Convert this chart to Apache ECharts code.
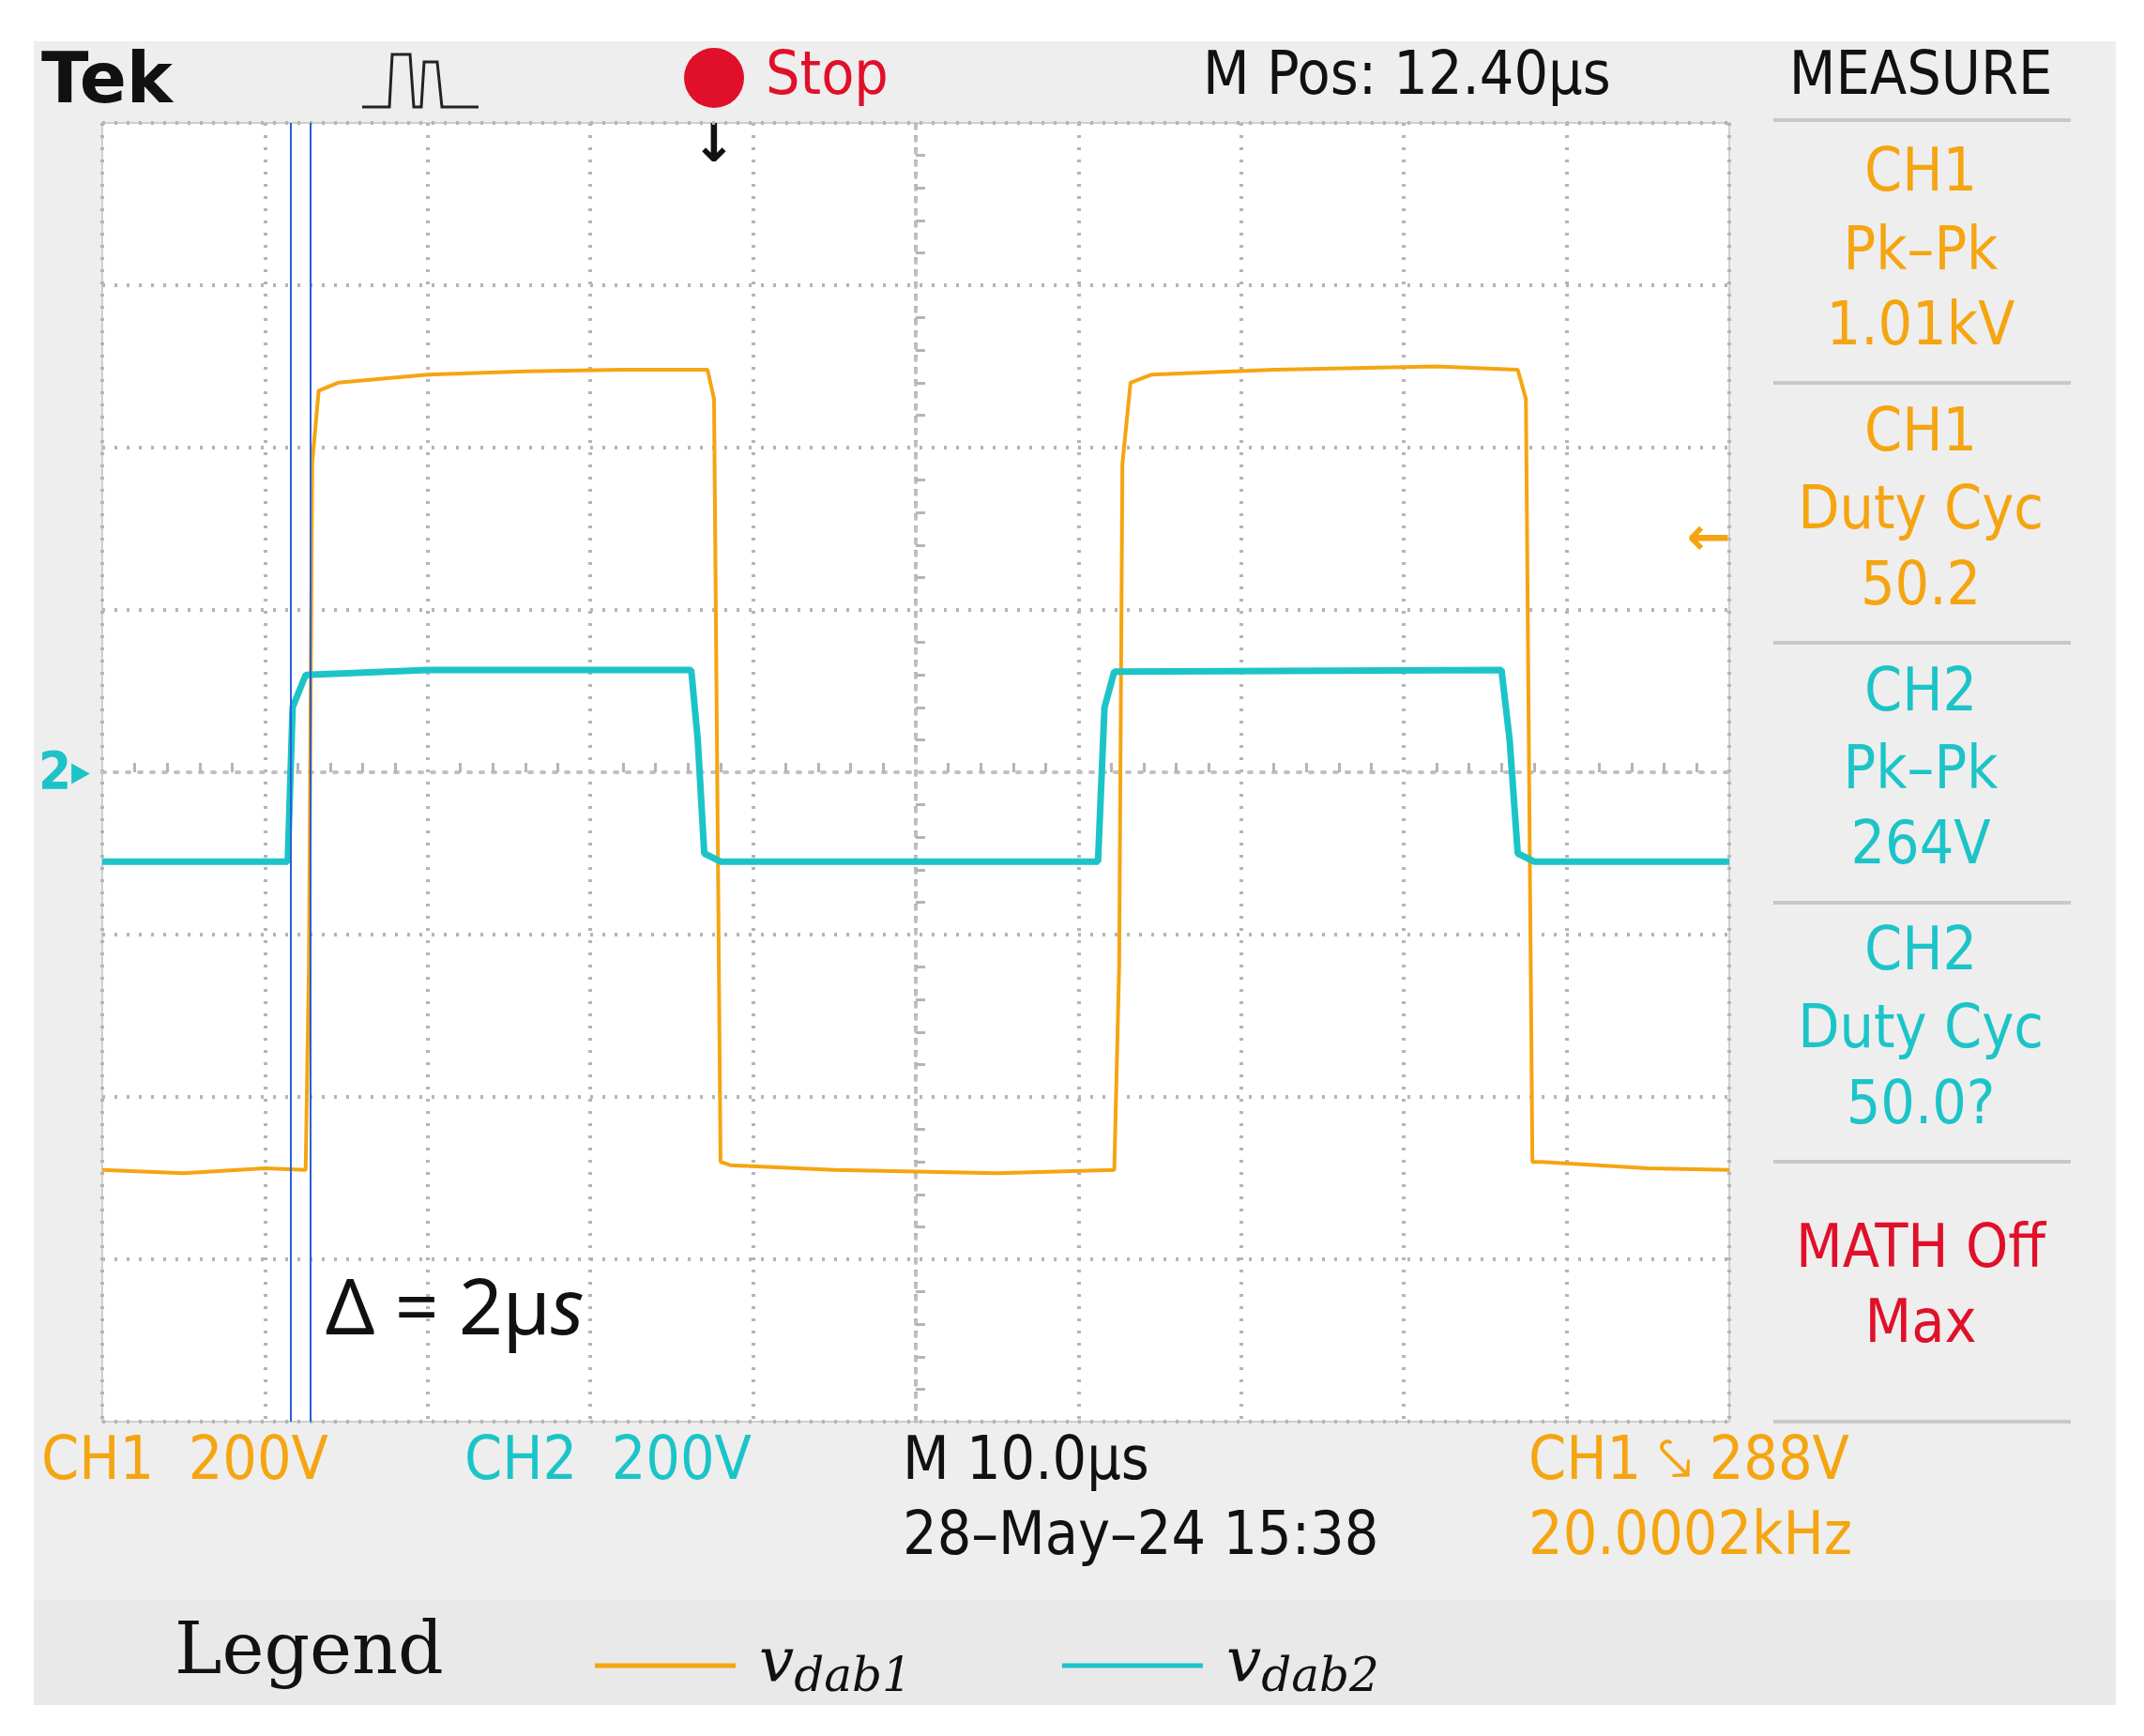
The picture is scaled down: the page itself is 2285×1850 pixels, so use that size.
<!DOCTYPE html>
<html>
<head>
<meta charset="utf-8">
<script src="https://cdn.jsdelivr.net/npm/echarts@6/dist/echarts.min.js"></script>
<style>html,body{margin:0;padding:0;background:#fff}#main{width:2285px;height:1850px}</style>
</head>
<body>
<div id="main"></div>
<script>
// scope traces, in screen divisions (x: 0..10, y: 0..8 from bottom)
const ch1Trace = [[0, 1.55], [0.5, 1.53], [1.0, 1.56], [1.25, 1.55], [1.27, 2.8], [1.29, 5.9], [1.33, 6.35], [1.45, 6.4],
  [2.0, 6.45], [2.6, 6.47], [3.2, 6.48], [3.72, 6.48], [3.76, 6.3], [3.80, 1.6], [3.86, 1.58], [4.5, 1.55],
  [5.5, 1.53], [6.22, 1.55], [6.25, 2.8], [6.27, 5.9], [6.32, 6.4], [6.45, 6.45], [7.2, 6.48], [8.2, 6.5],
  [8.7, 6.48], [8.75, 6.3], [8.79, 1.6], [8.85, 1.6], [9.5, 1.56], [10, 1.55]];
const ch2Trace = [[0, 3.45], [1.14, 3.45], [1.17, 4.4], [1.25, 4.6], [2.0, 4.63], [3.62, 4.63], [3.66, 4.2], [3.70, 3.5],
  [3.8, 3.45], [6.12, 3.45], [6.16, 4.4], [6.22, 4.62], [8.6, 4.63], [8.65, 4.2], [8.7, 3.5], [8.8, 3.45], [10, 3.45]];
const cursors = [1.16, 1.28];
const seriesNames = ['vdab1', 'vdab2'];

const S = 1.457;
const px = (v) => Math.round(v * S);
const ORANGE = '#f5a511';
const CYAN = '#1cc4c8';
const RED = '#e0102a';
const FONT = '"DejaVu Sans Condensed", "DejaVu Sans", sans-serif';

function txt(x, y, text, color, size, align, extra) {
  return {
    type: 'text', x: px(x), y: px(y),
    style: Object.assign({ text, fill: color, font: `${size}px ${FONT}`, align: align || 'left', verticalAlign: 'middle' }, extra || {}),
  };
}

const graphics = [
  { type: 'rect', shape: { x: px(25), y: px(30), width: px(1523), height: px(1140) }, style: { fill: '#eeeeee' }, z: -10 },
  { type: 'rect', shape: { x: px(25), y: px(1170), width: px(1523), height: px(77) }, style: { fill: '#e9e9e9' }, z: -10 },
  { type: 'rect', shape: { x: px(75), y: px(90), width: px(1190), height: px(950) }, style: { fill: '#ffffff', stroke: '#cfcfcf', lineWidth: 2 }, z: -9 },
  txt(30, 62, 'Tek', '#111', 74, 'left', { font: `bold 74px "DejaVu Sans", sans-serif` }),
  { type: 'polyline', shape: { points: [[265, 78], [285, 78], [287, 40], [300, 40], [303, 78], [308, 78], [310, 45], [320, 45], [323, 78], [350, 78]].map(p => [px(p[0]), px(p[1])]) }, style: { stroke: '#222', lineWidth: 3, fill: null } },
  { type: 'circle', shape: { cx: px(522), cy: px(57), r: px(22) }, style: { fill: RED } },
  txt(560, 57, 'Stop', RED, 64),
  txt(880, 57, 'M Pos: 12.40µs', '#111', 64),
  txt(1405, 57, 'MEASURE', '#111', 64, 'center'),
  txt(522, 108, '↓', '#111', 56, 'center', { font: `bold 56px "DejaVu Sans", sans-serif` }),
  txt(1250, 395, '←', ORANGE, 56, 'center', { font: `bold 56px "DejaVu Sans", sans-serif` }),
  txt(28, 566, '2', CYAN, 56, 'left', { font: `bold 56px ${FONT}` }),
  txt(52, 566, '▸', CYAN, 44, 'left'),
  {
    type: 'text', x: px(238), y: px(960),
    style: {
      text: '{a|Δ = 2µ}{b|s}', verticalAlign: 'middle', fill: '#111',
      rich: {
        a: { font: '82px "Noto Sans", sans-serif', fill: '#111' },
        b: { font: 'italic 82px "Noto Sans", sans-serif', fill: '#111' },
      },
    },
  },
  txt(30, 1070, 'CH1  200V', ORANGE, 64),
  txt(340, 1070, 'CH2  200V', CYAN, 64),
  txt(660, 1070, 'M 10.0µs', '#111', 64),
  txt(660, 1125, '28–May–24 15:38', '#111', 64),
  txt(1118, 1070, 'CH1 ⤥ 288V', ORANGE, 64),
  txt(1118, 1125, '20.0002kHz', ORANGE, 64),
  txt(128, 1210, 'Legend', '#111', 76, 'left', { font: `76px "DejaVu Serif", serif` }),
];
[88, 280, 470, 660, 850, 1040].forEach((y) => {
  graphics.push({ type: 'line', shape: { x1: px(1297), y1: px(y), x2: px(1515), y2: px(y) }, style: { stroke: '#c8c8c8', lineWidth: 4 } });
});
const panel = [
  [128, 'CH1', ORANGE], [185, 'Pk–Pk', ORANGE], [240, '1.01kV', ORANGE],
  [318, 'CH1', ORANGE], [375, 'Duty Cyc', ORANGE], [430, '50.2', ORANGE],
  [508, 'CH2', CYAN], [565, 'Pk–Pk', CYAN], [620, '264V', CYAN],
  [697, 'CH2', CYAN], [754, 'Duty Cyc', CYAN], [810, '50.0?', CYAN],
  [915, 'MATH Off', RED], [970, 'Max', RED],
];
panel.forEach(([y, t, c]) => graphics.push(txt(1405, y, t, c, 64, 'center')));

const chart = echarts.init(document.getElementById('main'));
const dotted = { show: true, lineStyle: { color: '#b5b5b5', type: [3, 10], width: 4 } };
const centreLine = { onZero: true, onZeroAxisIndex: 1, lineStyle: { color: '#c0c0c0', type: [3, 10], width: 4 } };
const centreTicks = { show: true, splitNumber: 5, length: 10, lineStyle: { color: '#b5b5b5', width: 3 } };
const option = {
  animation: false,
  graphic: graphics,
  grid: { left: px(75), top: px(90), width: px(1190), height: px(950) },
  legend: {
    left: px(432), top: px(1192), itemWidth: px(103), itemHeight: 5, itemGap: px(110),
    icon: 'rect',
    data: seriesNames,
    formatter: (n) => `{v|v}{s|${n.slice(1)}}`,
    textStyle: {
      rich: {
        v: { fontFamily: '"DejaVu Serif", serif', fontStyle: 'italic', fontSize: 66, color: '#111', padding: [0, 0, 0, 20] },
        s: { fontFamily: '"DejaVu Serif", serif', fontStyle: 'italic', fontSize: 50, color: '#111', padding: [28, 0, 0, 0] },
      },
    },
  },
  xAxis: [
    { type: 'value', min: 0, max: 10, interval: 1, axisLabel: { show: false }, axisLine: { show: false }, axisTick: { show: false }, splitLine: dotted },
    { type: 'value', min: -5, max: 5, interval: 1, axisLabel: { show: false }, axisLine: centreLine,
      axisTick: { show: false }, minorTick: centreTicks, splitLine: { show: false } },
  ],
  yAxis: [
    { type: 'value', min: 0, max: 8, interval: 1, axisLabel: { show: false }, axisLine: { show: false }, axisTick: { show: false }, splitLine: dotted },
    { type: 'value', min: -4, max: 4, interval: 1, axisLabel: { show: false }, axisLine: centreLine,
      axisTick: { show: false }, minorTick: centreTicks, splitLine: { show: false } },
  ],
  series: [
    {
      name: seriesNames[0], type: 'line', data: ch1Trace, showSymbol: false, color: ORANGE,
      lineStyle: { width: 4, color: ORANGE }, z: 3,
      markLine: {
        symbol: 'none', silent: true, label: { show: false },
        lineStyle: { color: '#2a5fd6', type: 'solid', width: 2 },
        data: cursors.map((x) => ({ xAxis: x })),
      },
    },
    { name: seriesNames[1], type: 'line', data: ch2Trace, showSymbol: false, color: CYAN, lineStyle: { width: 7, color: CYAN }, z: 4 },
    { type: 'line', xAxisIndex: 1, yAxisIndex: 1, data: [], silent: true },
  ],
};
chart.setOption(option);
</script>
</body>
</html>
